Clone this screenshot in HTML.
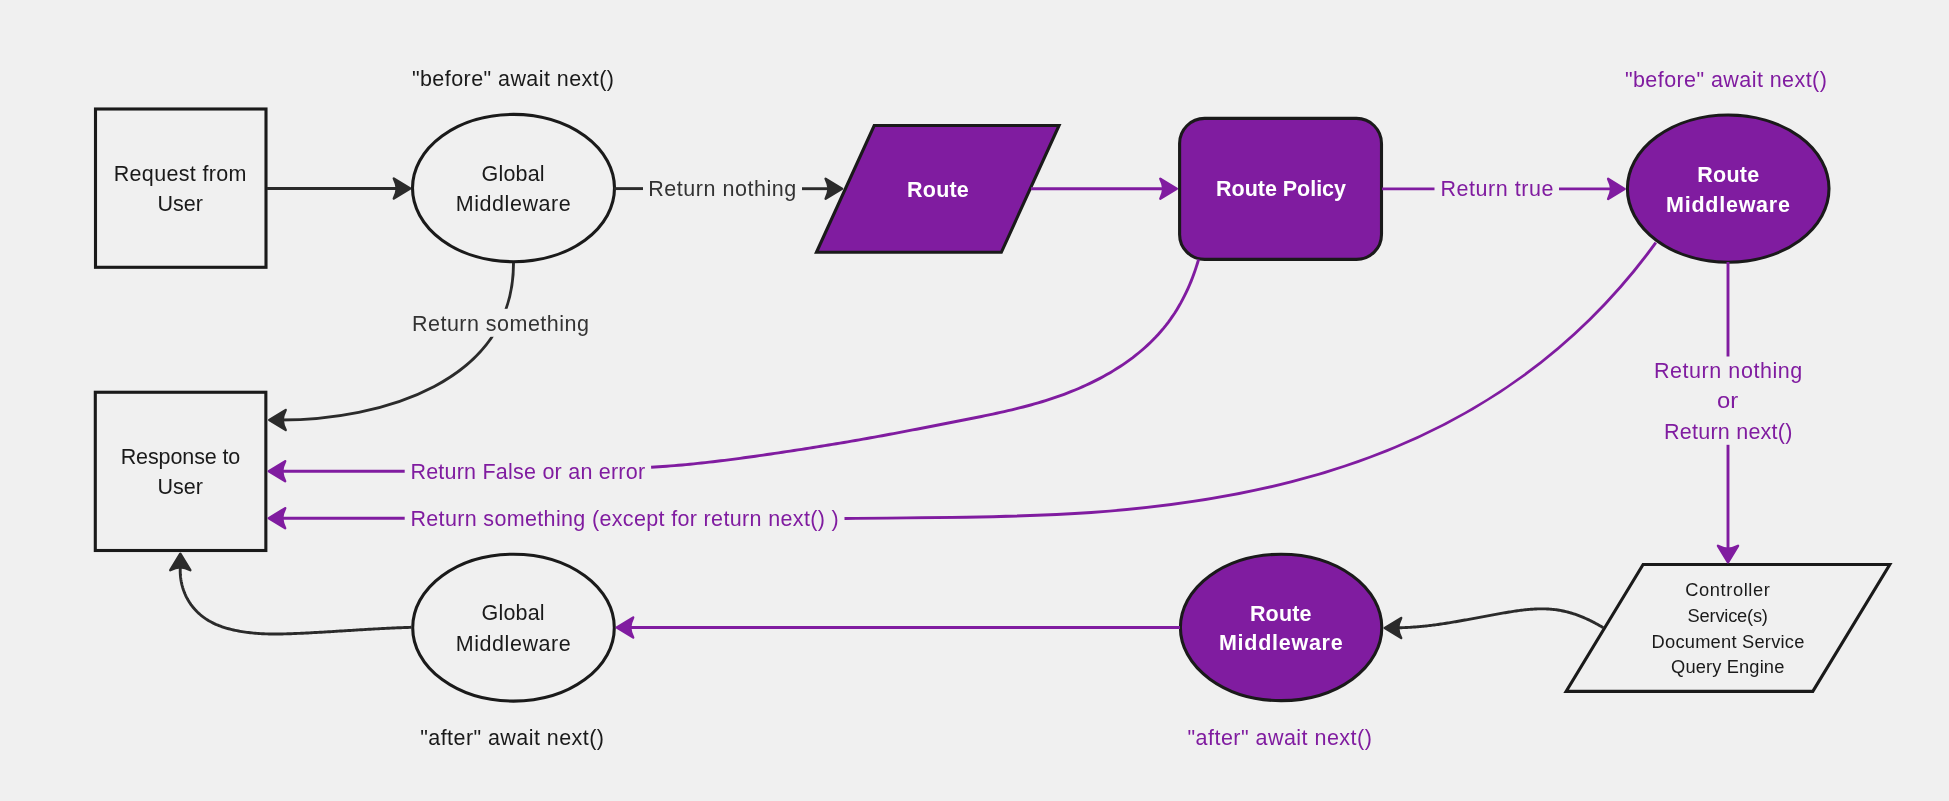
<!DOCTYPE html>
<html><head><meta charset="utf-8"><style>
html,body{margin:0;padding:0;background:#f0f0f0;width:1949px;height:801px;overflow:hidden}
svg{display:block;will-change:transform}
text{font-family:"Liberation Sans", sans-serif}
</style></head><body>
<svg width="1949" height="801" viewBox="0 0 1949 801">
<defs><mask id="mA" maskUnits="userSpaceOnUse" x="0" y="0" width="1949" height="801"><rect x="0" y="0" width="1949" height="801" fill="#fff"/><rect x="400" y="308.8" width="200" height="28" fill="#000"/></mask></defs>
<rect x="0" y="0" width="1949" height="801" fill="#f0f0f0"/>
<rect x="95.5" y="109" width="170.5" height="158.3" fill="none" stroke="#1a1a1a" stroke-width="3.1"/>
<rect x="95.3" y="392.25" width="170.55" height="158.25" fill="none" stroke="#1a1a1a" stroke-width="3.1"/>
<ellipse cx="513.5" cy="188.05" rx="101" ry="73.65" fill="none" stroke="#1a1a1a" stroke-width="3.1"/>
<ellipse cx="513.5" cy="627.65" rx="100.8" ry="73.45" fill="none" stroke="#1a1a1a" stroke-width="3.1"/>
<ellipse cx="1728.2" cy="188.6" rx="100.8" ry="73.6" fill="#801ca0" stroke="#1a1a1a" stroke-width="3.1"/>
<ellipse cx="1281.1" cy="627.4" rx="100.7" ry="73.2" fill="#801ca0" stroke="#1a1a1a" stroke-width="3.1"/>
<polygon points="874.2,125.5 1059.05,125.5 1001.35,252.3 816.45,252.3" fill="#801ca0" stroke="#1a1a1a" stroke-width="3.1" stroke-linejoin="miter"/>
<rect x="1179.6" y="118.4" width="201.9" height="141" rx="25" ry="25" fill="#801ca0" stroke="#1a1a1a" stroke-width="3.1"/>
<polygon points="1643.1,564.45 1889.8,564.45 1812.8,691.4 1566.1,691.4" fill="none" stroke="#1a1a1a" stroke-width="3.1" stroke-linejoin="miter"/>
<line x1="267.00" y1="188.50" x2="400.00" y2="188.50" stroke="#2b2b2b" stroke-width="2.90"/>
<path d="M-1.20,0 L-17.70,-10.05 Q-15.00,-4.52 -14.70,0 Q-15.00,4.52 -17.70,10.05 Z" fill="#2b2b2b" stroke="#2b2b2b" stroke-width="2.40" stroke-linejoin="round" transform="translate(411.50,188.50) rotate(0.00)"/>
<line x1="614.00" y1="188.60" x2="643.00" y2="188.60" stroke="#2b2b2b" stroke-width="2.90"/>
<line x1="802.00" y1="188.70" x2="830.00" y2="188.70" stroke="#2b2b2b" stroke-width="2.90"/>
<path d="M-1.20,0 L-17.70,-10.05 Q-15.00,-4.52 -14.70,0 Q-15.00,4.52 -17.70,10.05 Z" fill="#2b2b2b" stroke="#2b2b2b" stroke-width="2.40" stroke-linejoin="round" transform="translate(843.30,188.70) rotate(0.00)"/>
<line x1="1031.00" y1="188.70" x2="1165.00" y2="188.70" stroke="#801ca0" stroke-width="2.90"/>
<path d="M-1.20,0 L-17.70,-10.05 Q-15.00,-4.52 -14.70,0 Q-15.00,4.52 -17.70,10.05 Z" fill="#801ca0" stroke="#801ca0" stroke-width="2.40" stroke-linejoin="round" transform="translate(1178.00,188.70) rotate(0.00)"/>
<line x1="1382.00" y1="188.90" x2="1434.50" y2="188.90" stroke="#801ca0" stroke-width="2.90"/>
<line x1="1559.00" y1="188.90" x2="1612.00" y2="188.90" stroke="#801ca0" stroke-width="2.90"/>
<path d="M-1.20,0 L-17.70,-10.05 Q-15.00,-4.52 -14.70,0 Q-15.00,4.52 -17.70,10.05 Z" fill="#801ca0" stroke="#801ca0" stroke-width="2.40" stroke-linejoin="round" transform="translate(1625.80,188.90) rotate(0.00)"/>
<line x1="1728.00" y1="262.00" x2="1728.00" y2="356.50" stroke="#801ca0" stroke-width="2.90"/>
<line x1="1728.00" y1="444.80" x2="1728.00" y2="550.00" stroke="#801ca0" stroke-width="2.90"/>
<path d="M-1.20,0 L-17.70,-10.05 Q-15.00,-4.52 -14.70,0 Q-15.00,4.52 -17.70,10.05 Z" fill="#801ca0" stroke="#801ca0" stroke-width="2.40" stroke-linejoin="round" transform="translate(1728.00,563.50) rotate(90.00)"/>
<line x1="1180.00" y1="627.50" x2="628.00" y2="627.50" stroke="#801ca0" stroke-width="2.90"/>
<path d="M-1.20,0 L-17.70,-10.05 Q-15.00,-4.52 -14.70,0 Q-15.00,4.52 -17.70,10.05 Z" fill="#801ca0" stroke="#801ca0" stroke-width="2.40" stroke-linejoin="round" transform="translate(615.50,627.50) rotate(180.00)"/>
<path d="M513.50,263.00 C513.50,382.80 380.10,420.00 280.00,420.00" fill="none" stroke="#2b2b2b" stroke-width="2.90" mask="url(#mA)"/>
<path d="M-1.20,0 L-17.70,-10.05 Q-15.00,-4.52 -14.70,0 Q-15.00,4.52 -17.70,10.05 Z" fill="#2b2b2b" stroke="#2b2b2b" stroke-width="2.40" stroke-linejoin="round" transform="translate(268.00,420.00) rotate(180.00)"/>
<path d="M1198.62,259.31 L1197.52,263.00 L1196.36,266.69 L1195.13,270.38 L1193.83,274.06 L1192.46,277.72 L1191.03,281.36 L1189.52,284.98 L1187.94,288.58 L1186.29,292.14 L1184.57,295.67 L1182.78,299.17 L1180.92,302.62 L1178.98,306.03 L1176.98,309.39 L1174.91,312.70 L1172.76,315.95 L1170.54,319.14 L1168.25,322.27 L1165.89,325.33 L1163.46,328.34 L1160.97,331.28 L1158.41,334.17 L1155.79,337.00 L1153.11,339.76 L1150.37,342.47 L1147.58,345.12 L1144.73,347.72 L1141.82,350.26 L1138.86,352.74 L1135.85,355.16 L1132.80,357.54 L1129.69,359.85 L1126.54,362.12 L1123.35,364.33 L1120.11,366.48 L1116.84,368.59 L1113.53,370.64 L1110.18,372.64 L1106.79,374.60 L1103.38,376.50 L1099.93,378.35 L1096.45,380.15 L1092.94,381.91 L1089.41,383.62 L1085.86,385.28 L1082.28,386.89 L1078.68,388.46 L1075.06,389.98 L1071.42,391.46 L1067.77,392.89 L1064.10,394.28 L1060.42,395.63 L1056.73,396.93 L1053.04,398.19 L1049.33,399.41 L1045.61,400.60 L1041.88,401.75 L1038.15,402.86 L1034.40,403.94 L1030.65,404.98 L1026.89,406.00 L1023.13,406.99 L1019.36,407.95 L1015.58,408.89 L1011.80,409.81 L1008.01,410.70 L1004.22,411.57 L1000.42,412.42 L996.62,413.26 L992.82,414.08 L989.01,414.88 L985.20,415.67 L981.39,416.46 L977.57,417.23 L973.76,418.00 L969.94,418.76 L966.13,419.51 L962.31,420.26 L958.49,421.02 L954.67,421.77 L950.86,422.52 L947.04,423.27 L943.23,424.02 L939.41,424.76 L935.60,425.51 L931.78,426.26 L927.96,427.00 L924.15,427.74 L920.33,428.48 L916.52,429.22 L912.70,429.95 L908.88,430.68 L905.07,431.41 L901.25,432.13 L897.43,432.86 L893.61,433.57 L889.79,434.29 L885.97,435.00 L882.15,435.70 L878.33,436.40 L874.50,437.10 L870.68,437.79 L866.85,438.48 L863.03,439.16 L859.20,439.83 L855.37,440.50 L851.54,441.16 L847.71,441.82 L843.87,442.47 L840.04,443.12 L836.20,443.76 L832.37,444.40 L828.53,445.03 L824.69,445.66 L820.85,446.28 L817.01,446.90 L813.17,447.51 L809.33,448.12 L805.49,448.72 L801.65,449.32 L797.80,449.92 L793.96,450.51 L790.11,451.10 L786.27,451.68 L782.42,452.26 L778.57,452.84 L774.72,453.41 L770.88,453.98 L767.03,454.54 L763.18,455.10 L759.33,455.66 L755.48,456.21 L751.63,456.75 L747.78,457.28 L743.92,457.81 L740.07,458.33 L736.21,458.85 L732.36,459.35 L728.50,459.85 L724.64,460.33 L720.79,460.81 L716.93,461.27 L713.07,461.73 L709.20,462.17 L705.34,462.61 L701.48,463.03 L697.61,463.43 L693.74,463.83 L689.87,464.21 L686.00,464.58 L682.13,464.94 L678.26,465.27 L674.38,465.60 L670.51,465.91 L666.63,466.20 L662.75,466.48 L658.87,466.74 L654.99,466.98 L651.10,467.21" fill="none" stroke="#801ca0" stroke-width="2.90"/>
<line x1="404.70" y1="471.20" x2="280.00" y2="471.20" stroke="#801ca0" stroke-width="2.90"/>
<path d="M-1.20,0 L-17.70,-10.05 Q-15.00,-4.52 -14.70,0 Q-15.00,4.52 -17.70,10.05 Z" fill="#801ca0" stroke="#801ca0" stroke-width="2.40" stroke-linejoin="round" transform="translate(267.50,471.20) rotate(180.00)"/>
<path d="M1655.8,242.7 C1439.6,540.5 1069.0,514.4 844.5,518.5" fill="none" stroke="#801ca0" stroke-width="2.90"/>
<line x1="404.70" y1="518.20" x2="280.00" y2="518.20" stroke="#801ca0" stroke-width="2.90"/>
<path d="M-1.20,0 L-17.70,-10.05 Q-15.00,-4.52 -14.70,0 Q-15.00,4.52 -17.70,10.05 Z" fill="#801ca0" stroke="#801ca0" stroke-width="2.40" stroke-linejoin="round" transform="translate(267.50,518.20) rotate(180.00)"/>
<path d="M1603.26,627.76 L1602.11,627.06 L1600.94,626.36 L1599.76,625.67 L1598.58,624.99 L1597.39,624.32 L1596.20,623.66 L1594.99,623.00 L1593.78,622.36 L1592.56,621.73 L1591.34,621.12 L1590.11,620.51 L1588.87,619.91 L1587.63,619.33 L1586.38,618.76 L1585.12,618.20 L1583.86,617.66 L1582.60,617.12 L1581.33,616.61 L1580.05,616.10 L1578.77,615.61 L1577.48,615.14 L1576.19,614.68 L1574.90,614.23 L1573.60,613.81 L1572.30,613.39 L1571.00,613.00 L1569.69,612.62 L1568.37,612.25 L1567.06,611.91 L1565.74,611.58 L1564.42,611.27 L1563.09,610.98 L1561.77,610.71 L1560.44,610.45 L1559.11,610.22 L1557.78,610.00 L1556.44,609.81 L1555.10,609.63 L1553.77,609.47 L1552.43,609.34 L1551.09,609.22 L1549.75,609.11 L1548.40,609.03 L1547.06,608.96 L1545.71,608.91 L1544.36,608.87 L1543.02,608.85 L1541.67,608.85 L1540.32,608.85 L1538.97,608.88 L1537.62,608.91 L1536.26,608.96 L1534.91,609.03 L1533.56,609.10 L1532.20,609.19 L1530.85,609.28 L1529.50,609.39 L1528.14,609.51 L1526.78,609.64 L1525.43,609.78 L1524.07,609.93 L1522.72,610.09 L1521.36,610.25 L1520.01,610.42 L1518.65,610.60 L1517.30,610.79 L1515.94,610.98 L1514.59,611.18 L1513.23,611.38 L1511.88,611.59 L1510.53,611.81 L1509.18,612.03 L1507.82,612.25 L1506.47,612.47 L1505.12,612.70 L1503.77,612.93 L1502.43,613.16 L1501.08,613.40 L1499.73,613.63 L1498.39,613.87 L1497.04,614.11 L1495.70,614.35 L1494.35,614.60 L1493.01,614.84 L1491.67,615.09 L1490.33,615.33 L1488.98,615.58 L1487.64,615.83 L1486.30,616.08 L1484.96,616.33 L1483.62,616.58 L1482.28,616.83 L1480.95,617.08 L1479.61,617.33 L1478.27,617.58 L1476.93,617.83 L1475.59,618.08 L1474.26,618.33 L1472.92,618.58 L1471.58,618.83 L1470.25,619.07 L1468.91,619.32 L1467.57,619.57 L1466.24,619.81 L1464.90,620.05 L1463.56,620.30 L1462.23,620.54 L1460.89,620.78 L1459.55,621.01 L1458.22,621.25 L1456.88,621.48 L1455.54,621.71 L1454.21,621.94 L1452.87,622.16 L1451.53,622.39 L1450.19,622.61 L1448.85,622.82 L1447.51,623.04 L1446.18,623.25 L1444.84,623.46 L1443.50,623.66 L1442.16,623.87 L1440.81,624.06 L1439.47,624.26 L1438.13,624.45 L1436.79,624.63 L1435.44,624.82 L1434.10,624.99 L1432.75,625.17 L1431.41,625.34 L1430.06,625.50 L1428.72,625.66 L1427.37,625.82 L1426.02,625.97 L1424.67,626.11 L1423.32,626.25 L1421.97,626.39 L1420.61,626.52 L1419.26,626.64 L1417.91,626.76 L1416.55,626.87 L1415.19,626.97 L1413.84,627.07 L1412.48,627.17 L1411.12,627.25 L1409.76,627.34 L1408.39,627.41 L1407.03,627.48 L1405.67,627.54 L1404.30,627.59 L1402.93,627.64 L1401.56,627.68 L1400.19,627.71 L1398.82,627.73 L1397.45,627.75 L1396.07,627.76 L1394.70,627.76 L1393.32,627.75 L1391.94,627.73" fill="none" stroke="#2b2b2b" stroke-width="2.90"/>
<path d="M-1.20,0 L-17.70,-10.05 Q-15.00,-4.52 -14.70,0 Q-15.00,4.52 -17.70,10.05 Z" fill="#2b2b2b" stroke="#2b2b2b" stroke-width="2.40" stroke-linejoin="round" transform="translate(1383.50,628.00) rotate(180.00)"/>
<path d="M411.12,627.32 L409.42,627.37 L407.72,627.43 L406.02,627.49 L404.32,627.55 L402.62,627.62 L400.92,627.68 L399.22,627.75 L397.52,627.82 L395.82,627.90 L394.13,627.97 L392.43,628.05 L390.74,628.13 L389.04,628.21 L387.35,628.30 L385.66,628.38 L383.96,628.47 L382.27,628.56 L380.58,628.65 L378.89,628.74 L377.20,628.83 L375.51,628.92 L373.82,629.02 L372.13,629.12 L370.44,629.21 L368.75,629.31 L367.06,629.41 L365.37,629.51 L363.69,629.61 L362.00,629.71 L360.31,629.82 L358.62,629.92 L356.94,630.02 L355.25,630.13 L353.56,630.23 L351.87,630.33 L350.19,630.44 L348.50,630.54 L346.81,630.65 L345.12,630.75 L343.44,630.86 L341.75,630.96 L340.06,631.07 L338.37,631.17 L336.69,631.28 L335.00,631.38 L333.31,631.48 L331.62,631.59 L329.93,631.69 L328.24,631.79 L326.55,631.89 L324.86,631.99 L323.17,632.09 L321.48,632.19 L319.79,632.29 L318.10,632.38 L316.41,632.48 L314.72,632.57 L313.02,632.66 L311.33,632.75 L309.64,632.84 L307.94,632.93 L306.25,633.02 L304.55,633.10 L302.85,633.18 L301.16,633.27 L299.46,633.34 L297.76,633.42 L296.06,633.50 L294.36,633.57 L292.66,633.64 L290.96,633.70 L289.26,633.76 L287.56,633.81 L285.85,633.86 L284.15,633.91 L282.45,633.94 L280.75,633.97 L279.05,633.99 L277.35,634.01 L275.65,634.01 L273.95,634.01 L272.25,634.00 L270.55,633.97 L268.86,633.94 L267.16,633.90 L265.46,633.84 L263.77,633.78 L262.08,633.70 L260.38,633.60 L258.69,633.50 L257.00,633.38 L255.32,633.24 L253.63,633.10 L251.95,632.93 L250.26,632.75 L248.58,632.56 L246.90,632.34 L245.23,632.11 L243.55,631.87 L241.88,631.60 L240.21,631.32 L238.54,631.01 L236.88,630.69 L235.21,630.35 L233.55,629.98 L231.90,629.60 L230.25,629.19 L228.60,628.76 L226.96,628.30 L225.33,627.82 L223.71,627.31 L222.10,626.77 L220.50,626.20 L218.92,625.60 L217.35,624.97 L215.79,624.30 L214.26,623.60 L212.74,622.86 L211.24,622.09 L209.76,621.28 L208.30,620.43 L206.87,619.54 L205.46,618.61 L204.08,617.64 L202.73,616.63 L201.40,615.58 L200.11,614.50 L198.84,613.37 L197.61,612.22 L196.41,611.02 L195.25,609.79 L194.12,608.53 L193.04,607.24 L191.99,605.91 L190.98,604.55 L190.02,603.16 L189.09,601.74 L188.21,600.29 L187.37,598.82 L186.58,597.32 L185.83,595.79 L185.13,594.25 L184.47,592.68 L183.86,591.09 L183.29,589.49 L182.77,587.87 L182.30,586.23 L181.87,584.58 L181.49,582.92 L181.16,581.25 L180.88,579.57 L180.65,577.88 L180.47,576.18 L180.33,574.48 L180.25,572.78 L180.22,571.08 L180.24,569.37 L180.31,567.67 L180.43,565.96" fill="none" stroke="#2b2b2b" stroke-width="2.90"/>
<path d="M-1.20,0 L-17.70,-10.05 Q-15.00,-4.52 -14.70,0 Q-15.00,4.52 -17.70,10.05 Z" fill="#2b2b2b" stroke="#2b2b2b" stroke-width="2.40" stroke-linejoin="round" transform="translate(180.30,552.50) rotate(-90.00)"/>
<text x="411.90" y="86.20" font-size="21.50" fill="#1a1a1a" font-weight="normal" textLength="202.00" lengthAdjust="spacing">"before" await next()</text>
<text x="1624.90" y="87.30" font-size="21.50" fill="#801ca0" font-weight="normal" textLength="201.90" lengthAdjust="spacing">"before" await next()</text>
<text x="420.20" y="745.10" font-size="21.50" fill="#1a1a1a" font-weight="normal" textLength="183.70" lengthAdjust="spacing">"after" await next()</text>
<text x="1187.50" y="745.00" font-size="21.50" fill="#801ca0" font-weight="normal" textLength="184.30" lengthAdjust="spacing">"after" await next()</text>
<text x="113.70" y="180.90" font-size="21.50" fill="#1a1a1a" font-weight="normal" textLength="132.70" lengthAdjust="spacing">Request from</text>
<text x="157.60" y="210.80" font-size="21.50" fill="#1a1a1a" font-weight="normal" textLength="45.30" lengthAdjust="spacing">User</text>
<text x="120.70" y="464.00" font-size="21.50" fill="#1a1a1a" font-weight="normal" textLength="119.60" lengthAdjust="spacing">Response to</text>
<text x="157.60" y="494.00" font-size="21.50" fill="#1a1a1a" font-weight="normal" textLength="45.30" lengthAdjust="spacing">User</text>
<text x="481.60" y="180.90" font-size="21.50" fill="#1a1a1a" font-weight="normal" textLength="63.00" lengthAdjust="spacing">Global</text>
<text x="455.70" y="211.00" font-size="21.50" fill="#1a1a1a" font-weight="normal" textLength="115.10" lengthAdjust="spacing">Middleware</text>
<text x="481.60" y="620.00" font-size="21.50" fill="#1a1a1a" font-weight="normal" textLength="63.00" lengthAdjust="spacing">Global</text>
<text x="455.70" y="650.70" font-size="21.50" fill="#1a1a1a" font-weight="normal" textLength="115.10" lengthAdjust="spacing">Middleware</text>
<text x="648.30" y="196.10" font-size="21.50" fill="#333333" font-weight="normal" textLength="148.00" lengthAdjust="spacing">Return nothing</text>
<text x="412.00" y="330.50" font-size="21.50" fill="#333333" font-weight="normal" textLength="176.90" lengthAdjust="spacing">Return something</text>
<text x="907.10" y="196.70" font-size="21.50" fill="#ffffff" font-weight="bold" textLength="61.70" lengthAdjust="spacing">Route</text>
<text x="1216.10" y="196.40" font-size="21.50" fill="#ffffff" font-weight="bold" textLength="129.90" lengthAdjust="spacing">Route Policy</text>
<text x="1697.30" y="181.70" font-size="21.50" fill="#ffffff" font-weight="bold" textLength="61.80" lengthAdjust="spacing">Route</text>
<text x="1666.10" y="211.60" font-size="21.50" fill="#ffffff" font-weight="bold" textLength="123.80" lengthAdjust="spacing">Middleware</text>
<text x="1249.90" y="620.50" font-size="21.50" fill="#ffffff" font-weight="bold" textLength="61.60" lengthAdjust="spacing">Route</text>
<text x="1218.90" y="650.40" font-size="21.50" fill="#ffffff" font-weight="bold" textLength="123.80" lengthAdjust="spacing">Middleware</text>
<text x="1440.50" y="196.40" font-size="21.50" fill="#801ca0" font-weight="normal" textLength="113.00" lengthAdjust="spacing">Return true</text>
<text x="410.40" y="479.30" font-size="21.50" fill="#801ca0" font-weight="normal" textLength="234.70" lengthAdjust="spacing">Return False or an error</text>
<text x="410.40" y="526.00" font-size="21.50" fill="#801ca0" font-weight="normal" textLength="428.30" lengthAdjust="spacing">Return something (except for return next() )</text>
<text x="1653.90" y="378.20" font-size="21.50" fill="#801ca0" font-weight="normal" textLength="148.40" lengthAdjust="spacing">Return nothing</text>
<text x="1717.10" y="408.40" font-size="21.50" fill="#801ca0" font-weight="normal" textLength="21.20" lengthAdjust="spacingAndGlyphs">or</text>
<text x="1664.10" y="438.50" font-size="21.50" fill="#801ca0" font-weight="normal" textLength="128.20" lengthAdjust="spacing">Return next()</text>
<text x="1685.30" y="595.80" font-size="18.30" fill="#1a1a1a" font-weight="normal" textLength="84.50" lengthAdjust="spacing">Controller</text>
<text x="1687.60" y="621.70" font-size="18.30" fill="#1a1a1a" font-weight="normal" textLength="80.30" lengthAdjust="spacing">Service(s)</text>
<text x="1651.60" y="647.60" font-size="18.30" fill="#1a1a1a" font-weight="normal" textLength="152.70" lengthAdjust="spacing">Document Service</text>
<text x="1671.10" y="673.00" font-size="18.30" fill="#1a1a1a" font-weight="normal" textLength="113.20" lengthAdjust="spacing">Query Engine</text>
</svg>
</body></html>
